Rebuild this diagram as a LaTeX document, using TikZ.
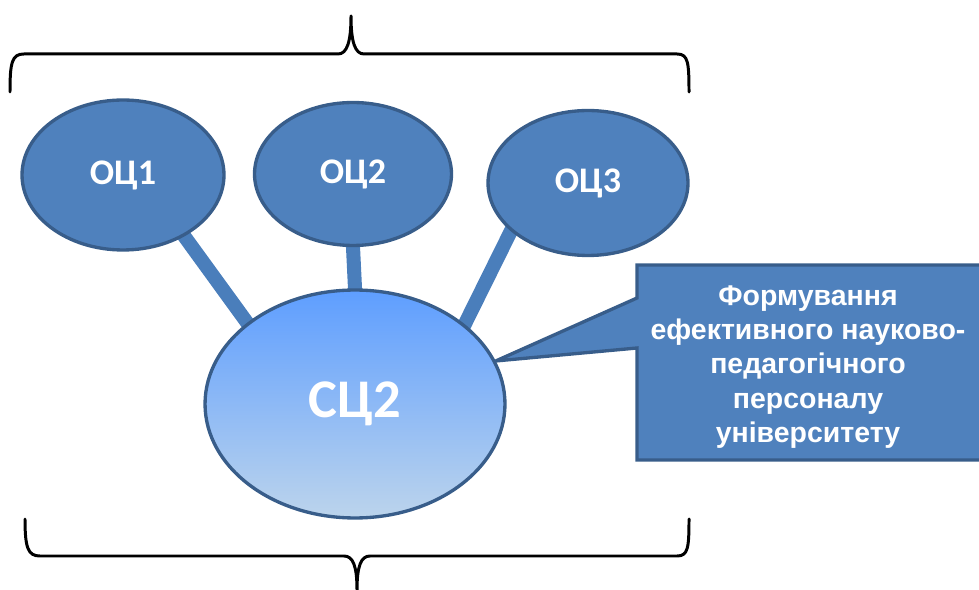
\documentclass[tikz,border=0pt]{standalone}
\usepackage{fontspec}
\setmainfont{Liberation Sans}
\newfontfamily\labelfont{Carlito}
\usetikzlibrary{shapes.geometric,backgrounds}
\definecolor{cellfill}{HTML}{4F81BD}
\definecolor{celldraw}{HTML}{385D8A}
\definecolor{bartone}{HTML}{4A7EBB}
\definecolor{ctop}{HTML}{5E9EFF}
\definecolor{cmid}{HTML}{80BBFF}
\definecolor{cbot}{HTML}{BCD4EC}
\tikzset{
  cell/.style={ellipse,fill=cellfill,draw=celldraw,line width=1.9pt,inner sep=0pt,
    text=white,font=\labelfont\bfseries\fontsize{20.5}{24}\selectfont},
  core/.style={cell,top color=ctop,middle color=cmid,bottom color=cbot,
    font=\labelfont\bfseries\fontsize{31}{36}\selectfont},
  bar/.style={bartone,line width=8pt,shorten <=-6pt,shorten >=-6pt},
  brace/.style={line width=1.7pt,line cap=round,line join=round},
  goaltext/.style={align=center,text=white,inner sep=0pt,
    font=\bfseries\fontsize{16.2}{19.5}\selectfont}
}
\begin{document}
\begin{tikzpicture}[x=0.02cm,y=-0.02cm,line join=round]
\useasboundingbox (0,0) rectangle (979,590);
% cells
\node[cell,minimum width=4.04cm,minimum height=3cm] (o1) at (123,175) {ОЦ1};
\node[cell,minimum width=3.94cm,minimum height=2.86cm] (o2) at (353,174) {ОЦ2};
\node[cell,minimum width=4cm,minimum height=2.9cm] (o3) at (588,183) {ОЦ3};
\node[core,minimum width=6cm,minimum height=4.56cm] (c2) at (355,404) {СЦ2};
\coordinate (tip) at (c2.17);
\node[goaltext] (goal) at (808,367) {Формування\\ефективного науково-\\педагогічного\\персоналу\\університету};
\begin{scope}[on background layer]
\draw[bar] (o1.-45) -- (c2.143);
\draw[bar] (o2.south) -- (c2.north);
\draw[bar] (o3.-148) -- (c2.36);
\end{scope}
% callout
\begin{scope}[on background layer]
\filldraw[fill=cellfill,draw=celldraw,line width=1.9pt]
  (637,265) -- (990,265) -- (990,460) -- (637,460) -- (637,348) -- (tip) -- (637,298) -- cycle;
\end{scope}
% braces
\draw[brace] (10,92) .. controls (10,62) and (12,54) .. (24,54) -- (338,54)
  .. controls (347,54) and (351,42) .. (351,16)
  .. controls (351,42) and (355,54) .. (364,54) -- (677,54)
  .. controls (688,54) and (689,62) .. (689,92);
\draw[brace] (25,519) .. controls (25,548) and (28,556) .. (40,556) -- (344,556)
  .. controls (353,556) and (357,566) .. (357,590)
  .. controls (357,566) and (361,556) .. (370,556) -- (677,556)
  .. controls (688,556) and (689,548) .. (689,519);
\end{tikzpicture}
\end{document}
